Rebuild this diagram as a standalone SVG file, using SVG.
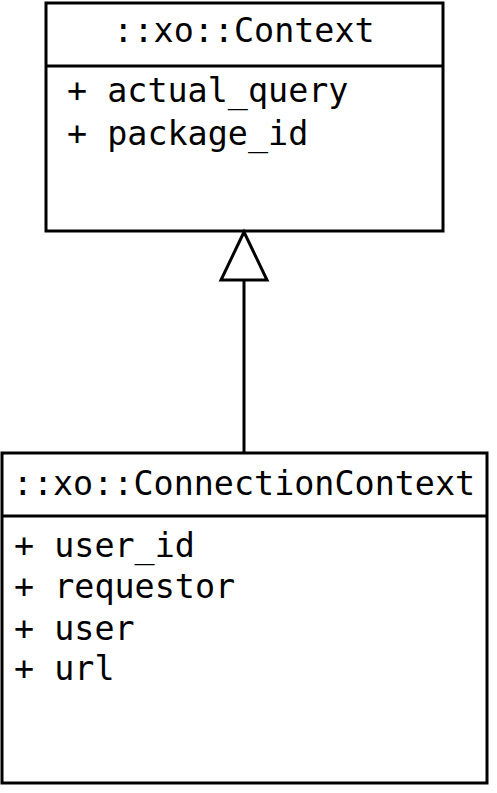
<svg xmlns="http://www.w3.org/2000/svg" width="497" height="793" viewBox="0 0 497 793">
<style>
.box{fill:#fff;stroke:#000;stroke-width:3}
.t{font-family:"DejaVu Sans Mono",monospace;font-size:33.4px;fill:#000}
.c{text-anchor:middle}
.ln{stroke:#000;stroke-width:3;fill:none}
</style>
<rect width="497" height="793" fill="#fff"/>
<g id="context">
<rect class="box" x="46" y="3" width="397" height="228"/>
<line class="ln" x1="46" y1="66" x2="443" y2="66"/>
<text class="t c" x="244" y="42">::xo::Context</text>
<text class="t" x="67" y="102">+ actual_query</text>
<text class="t" x="67" y="145">+ package_id</text>
</g>
<g id="connectioncontext">
<rect class="box" x="2" y="453" width="485" height="330"/>
<line class="ln" x1="2" y1="516" x2="487" y2="516"/>
<text class="t c" x="244" y="495">::xo::ConnectionContext</text>
<text class="t" x="14" y="557">+ user_id</text>
<text class="t" x="14" y="598">+ requestor</text>
<text class="t" x="14" y="640">+ user</text>
<text class="t" x="14" y="680">+ url</text>
</g>
<g id="connectors">
<line class="ln" x1="244" y1="280" x2="244" y2="453"/>
<polygon class="ln" points="244,232 221,280 267,280" fill="#fff"/>
</g>
</svg>
